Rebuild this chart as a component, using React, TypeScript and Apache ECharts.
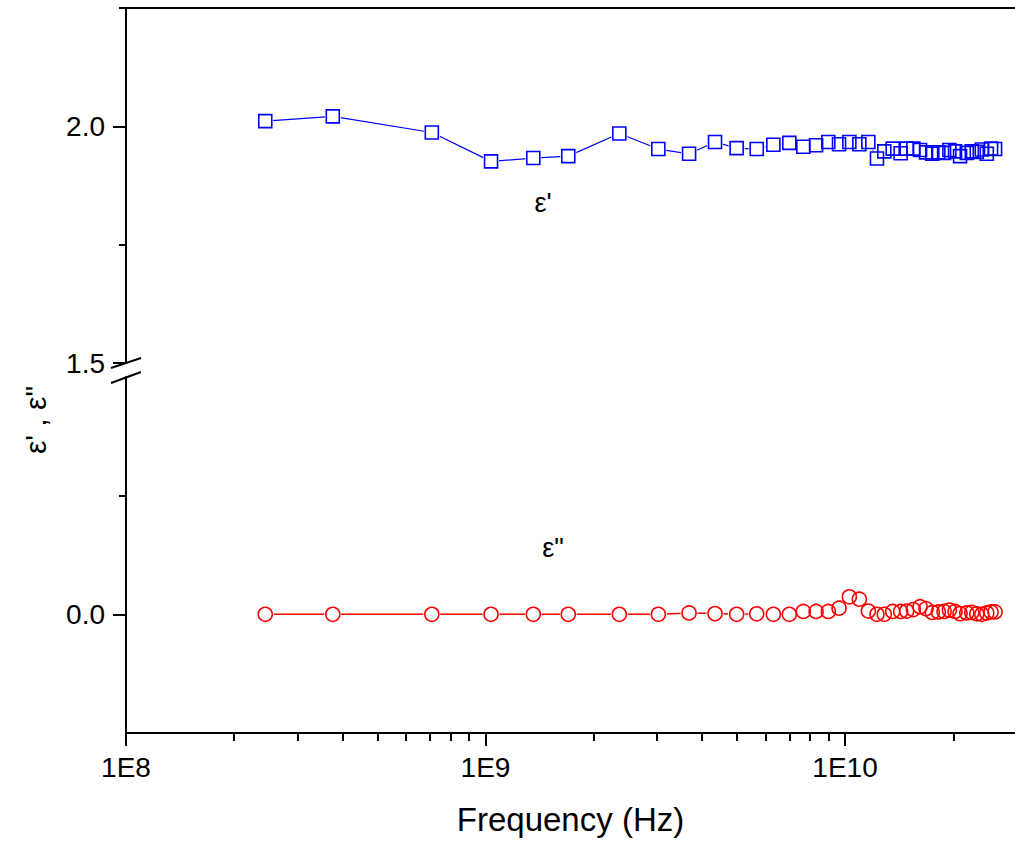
import React, { useEffect, useRef } from "react";
import * as echarts from "echarts";

const freqs = [
  2.44e8, 3.76e8, 7.09e8, 1.036e9, 1.358e9, 1.699e9, 2.356e9, 3.025e9, 3.683e9, 4.349e9,
  4.995e9, 5.68e9, 6.319e9, 6.999e9, 7.656e9, 8.307e9, 8.985e9, 9.623e9, 1.028e10, 1.096e10,
  1.161e10, 1.227e10, 1.286e10, 1.357e10, 1.428e10, 1.484e10, 1.549e10, 1.617e10, 1.68e10, 1.749e10,
  1.818e10, 1.886e10, 1.951e10, 2.023e10, 2.089e10, 2.181e10, 2.252e10, 2.325e10, 2.401e10, 2.479e10,
  2.548e10, 2.614e10,
];
const epsReal = [
  2.011, 2.021, 1.987, 1.926, 1.933, 1.937, 1.985, 1.952, 1.942, 1.967,
  1.954, 1.952, 1.961, 1.965, 1.957, 1.96, 1.967, 1.962, 1.967, 1.962,
  1.967, 1.932, 1.947, 1.953, 1.943, 1.953, 1.953, 1.95, 1.945, 1.942,
  1.945, 1.944, 1.95, 1.947, 1.937, 1.944, 1.947, 1.946, 1.951, 1.942,
  1.953, 1.952,
];
const epsImag = [
  0, 0, 0, 0, 0, 0, 0, 0, 0.003, 0.0015,
  0, 0.001, 0, 0, 0.006, 0.006, 0.006, 0.013, 0.037, 0.032,
  0.007, 0, 0, 0.006, 0.006, 0.007, 0.01, 0.016, 0.012, 0.004,
  0.005, 0.006, 0.009, 0.006, 0.0015, 0.003, 0.004, 0.001, 0, 0.003,
  0.005, 0.005,
];
const xMajor = [1e8, 1e9, 1e10];
const xMinor = [2e8, 3e8, 4e8, 5e8, 6e8, 7e8, 8e8, 9e8, 2e9, 3e9, 4e9, 5e9, 6e9, 7e9, 8e9, 9e9, 2e10];
const upperMajor = [1.5, 2.0];
const upperMinor = [1.75, 2.25];
const lowerMajor = [0.0];
const lowerMinor = [0.25];

const FONT = "'Liberation Sans', Arial, sans-serif";
const X_MIN = 1e8;
const X_MAX = 2.97e10;

export default function App() {
  const ref = useRef<HTMLDivElement>(null);
  useEffect(() => {
    const chart = echarts.init(ref.current!, null, { renderer: "svg" });
    const line = { lineStyle: { color: "#000", width: 2 }, onZero: false };
    const realPairs = freqs.map((f, i) => [f, epsReal[i]]);
    const imagPairs = freqs.map((f, i) => [f, epsImag[i]]);
    const xBase = { type: "log", min: X_MIN, max: X_MAX, logBase: 10, splitLine: { show: false } };
    chart.setOption({
      animation: false,
      backgroundColor: "#fff",
      grid: [
        { left: 126, right: 0, top: 8, height: 355 },
        { left: 126, right: 0, top: 377, bottom: 111 },
      ],
      xAxis: [
        { ...xBase, gridIndex: 0, position: "top", axisLine: line, axisTick: { show: false }, axisLabel: { show: false } },
        {
          ...xBase, gridIndex: 1, position: "bottom", axisLine: line,
          axisTick: { customValues: xMajor, length: 13, lineStyle: { color: "#000", width: 2 } },
          axisLabel: {
            customValues: xMajor, margin: 20, fontSize: 28, color: "#000", fontFamily: FONT,
            formatter: (v: number) => "1E" + Math.round(Math.log10(v)),
          },
          name: "Frequency (Hz)", nameLocation: "middle", nameGap: 70,
          nameTextStyle: { fontSize: 33, color: "#000", fontFamily: FONT },
        },
        {
          ...xBase, gridIndex: 1, position: "bottom", axisLine: { show: false, onZero: false },
          axisTick: { customValues: xMinor, length: 8, lineStyle: { color: "#000", width: 2 } },
          axisLabel: { show: false },
        },
      ],
      yAxis: [
        {
          type: "value", gridIndex: 0, min: 1.5, max: 2.25, position: "left", axisLine: line, splitLine: { show: false },
          axisTick: { customValues: upperMajor, length: 13, lineStyle: { color: "#000", width: 2 } },
          axisLabel: { customValues: upperMajor, margin: 21, fontSize: 28, color: "#000", fontFamily: FONT, formatter: (v: number) => v.toFixed(1) },
        },
        {
          type: "value", gridIndex: 0, min: 1.5, max: 2.25, position: "left", axisLine: { show: false, onZero: false }, splitLine: { show: false },
          axisTick: { customValues: upperMinor, length: 7, lineStyle: { color: "#000", width: 2 } },
          axisLabel: { show: false },
        },
        {
          type: "value", gridIndex: 1, min: -0.25, max: 0.5, position: "left", axisLine: line, splitLine: { show: false },
          axisTick: { customValues: lowerMajor, length: 13, lineStyle: { color: "#000", width: 2 } },
          axisLabel: { customValues: lowerMajor, margin: 21, fontSize: 28, color: "#000", fontFamily: FONT, formatter: (v: number) => v.toFixed(1) },
        },
        {
          type: "value", gridIndex: 1, min: -0.25, max: 0.5, position: "left", axisLine: { show: false, onZero: false }, splitLine: { show: false },
          axisTick: { customValues: lowerMinor, length: 7, lineStyle: { color: "#000", width: 2 } },
          axisLabel: { show: false },
        },
      ],
      series: [
        {
          type: "line", xAxisIndex: 0, yAxisIndex: 0, data: realPairs, symbol: "rect", symbolSize: 16, z: 2,
          itemStyle: { color: "#fff", borderWidth: 0 }, lineStyle: { color: "#0000ff", width: 1.2 }, silent: true,
        },
        {
          type: "scatter", xAxisIndex: 0, yAxisIndex: 0, data: realPairs, symbol: "rect", symbolSize: 13, z: 10,
          itemStyle: { color: "rgba(255,255,255,0)", borderColor: "#0000ff", borderWidth: 1.6, opacity: 1 }, silent: true,
        },
        {
          type: "line", xAxisIndex: 1, yAxisIndex: 2, data: imagPairs, symbol: "circle", symbolSize: 17, z: 2,
          itemStyle: { color: "#fff", borderWidth: 0 }, lineStyle: { color: "#ff0000", width: 1.5 }, silent: true,
        },
        {
          type: "scatter", xAxisIndex: 1, yAxisIndex: 2, data: imagPairs, symbol: "circle", symbolSize: 14, z: 10,
          itemStyle: { color: "rgba(255,255,255,0)", borderColor: "#ff0000", borderWidth: 1.6, opacity: 1 }, silent: true,
        },
      ],
      graphic: [
        { type: "line", shape: { x1: 111, y1: 368, x2: 141, y2: 358 }, style: { stroke: "#000", lineWidth: 2 } },
        { type: "line", shape: { x1: 111, y1: 383, x2: 141, y2: 372 }, style: { stroke: "#000", lineWidth: 2 } },
        {
          type: "text", x: 35, y: 420, rotation: Math.PI / 2,
          style: { text: "ε' , ε\"", fontSize: 30, fontFamily: FONT, fill: "#000", align: "center", verticalAlign: "middle" },
        },
        {
          type: "text", x: 543, y: 203,
          style: { text: "ε'", fontSize: 27, fontFamily: FONT, fill: "#000", align: "center", verticalAlign: "middle" },
        },
        {
          type: "text", x: 553, y: 548,
          style: { text: "ε\"", fontSize: 27, fontFamily: FONT, fill: "#000", align: "center", verticalAlign: "middle" },
        },
      ],
    });
    return () => chart.dispose();
  }, []);
  return <div ref={ref} style={{ position: "fixed", left: 0, top: 0, width: 1015, height: 844 }} />;
}
